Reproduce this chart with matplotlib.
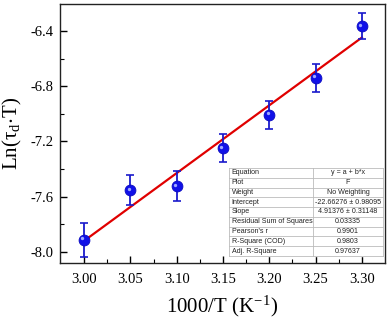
import numpy as np
import matplotlib
matplotlib.use("Agg")
import matplotlib.pyplot as plt
from matplotlib.transforms import ScaledTranslation

plt.rcParams['font.family'] = ['Liberation Serif', 'DejaVu Serif']
plt.rcParams['mathtext.fontset'] = 'stix'
plt.rcParams['axes.unicode_minus'] = False

# Data
x_vals = [3.00, 3.05, 3.10, 3.15, 3.20, 3.25, 3.30]
y_vals = [-7.915, -7.555, -7.525, -7.250, -7.010, -6.740, -6.365]
y_err = [0.12, 0.11, 0.11, 0.10, 0.10, 0.10, 0.095]
intercept = -22.66276
slope = 4.91376

table_labels = ["Equation", "Plot", "Weight", "Intercept", "Slope",
                "Residual Sum of Squares", "Pearson's r", "R-Square (COD)", "Adj. R-Square"]
table_values = ["y = a + b*x", "F", "No Weighting", "-22.66276 \u00b1 0.98095",
                "4.91376 \u00b1 0.31148", "0.03335", "0.9901", "0.9803", "0.97637"]

fig = plt.figure(figsize=(3.9, 3.24), dpi=100)
ax = fig.add_axes([60/390, 61/324, 325/390, 259/324])

xf = np.array([x_vals[0], x_vals[-1]])
ax.plot(xf, intercept + slope * xf, color='#e00000', lw=1.6, zorder=2)

ax.errorbar(x_vals, y_vals, yerr=y_err, fmt='none', ecolor='#1a1acc',
            elinewidth=1.3, capsize=3.2, capthick=1.2, zorder=3)
ax.plot(x_vals, y_vals, 'o', color='#1010e8', ms=7.8, mec='#0a0ac0', mew=0.6, zorder=4)
off = ScaledTranslation(-1.2/72, 1.2/72, fig.dpi_scale_trans)
ax.plot(x_vals, y_vals, 'o', color='#9fa8ff', ms=2.4, mew=0,
        transform=ax.transData + off, zorder=5)

ax.set_xlim(2.974, 3.325)
ax.set_ylim(-8.082, -6.204)
ax.set_xticks([3.00, 3.05, 3.10, 3.15, 3.20, 3.25, 3.30])
ax.set_xticklabels(["3.00", "3.05", "3.10", "3.15", "3.20", "3.25", "3.30"])
ax.set_yticks([-8.0, -7.6, -7.2, -6.8, -6.4])
ax.set_yticklabels(["-8.0", "-7.6", "-7.2", "-6.8", "-6.4"])
ax.set_xticks(np.arange(3.025, 3.30, 0.05), minor=True)
ax.set_yticks([-7.8, -7.4, -7.0, -6.6], minor=True)
ax.tick_params(which='major', direction='in', length=5, width=1, labelsize=10.5)
ax.tick_params(axis='x', which='major', pad=7)
ax.tick_params(axis='y', which='major', pad=4.5)
ax.tick_params(which='minor', direction='in', length=3, width=0.8)
for s in ax.spines.values():
    s.set_linewidth(1.0)
    s.set_color('#222222')

ax.set_xlabel(r"1000/T (K$^{\mathregular{-1}}$)", fontsize=15, labelpad=6)
ax.set_ylabel(r"Ln($\mathregular{\tau_d}$$\cdot$T)", fontsize=15, labelpad=5)

# Fit table
L, R, T, B = 0.52, 0.994, 0.367, 0.027
D = 0.778
n = len(table_labels)
h = (T - B) / n
ax.fill_between([L, R], B, T, color='white', transform=ax.transAxes, zorder=6)
gc = '#bbbbbb'
for i in range(n + 1):
    yy = T - i * h
    ax.plot([L, R], [yy, yy], color=gc, lw=0.6, transform=ax.transAxes, zorder=7)
ax.plot([L, L], [B, T], color=gc, lw=0.6, transform=ax.transAxes, zorder=7)
ax.plot([R, R], [B, T], color=gc, lw=0.6, transform=ax.transAxes, zorder=7)
ax.plot([D, D], [B, T], color=gc, lw=0.6, transform=ax.transAxes, zorder=7)
for i, (lab, val) in enumerate(zip(table_labels, table_values)):
    yc = T - (i + 0.5) * h
    ax.text(L + 0.008, yc, lab, transform=ax.transAxes, fontsize=5.1,
            family='Liberation Sans', va='center', ha='left', zorder=8, color='#222222')
    ax.text((D + R) / 2, yc, val, transform=ax.transAxes, fontsize=5.1,
            family='Liberation Sans', va='center', ha='center', zorder=8, color='#222222')

fig.savefig("out.png", dpi=100)
